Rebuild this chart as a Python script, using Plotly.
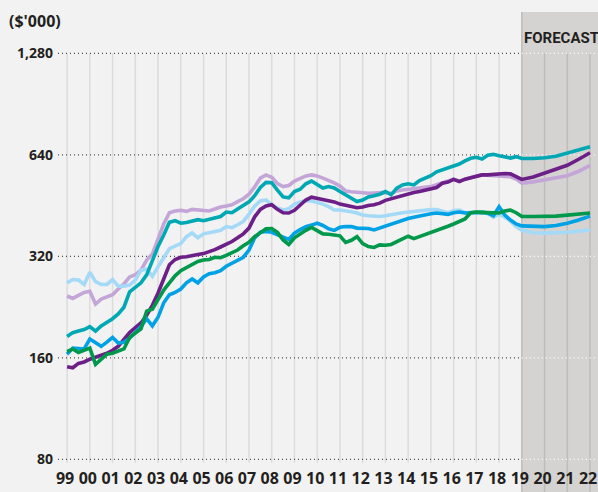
import math
import plotly.graph_objects as go

# ---------------- data ($'000) ----------------
quarters = [1999 + 0.25 * i for i in range(81)]          # 1999 Q1 .. 2019 Q1
forecast_years = [2019.5, 2020, 2020.5, 2021, 2021.5, 2022]
year_ticks = list(range(1999, 2023))
year_labels = ["99", "00", "01", "02", "03", "04", "05", "06", "07", "08", "09", "10",
               "11", "12", "13", "14", "15", "16", "17", "18", "19", "20", "21", "22"]
y_ticks = [80, 160, 320, 640, 1280]
y_labels = ["80", "160", "320", "640", "1,280"]

teal_hist = [185, 190, 192, 194, 198, 192, 199, 204, 209, 216,
             226, 251, 258, 267, 282, 312, 342, 370, 404, 408,
             401, 403, 407, 411, 408, 412, 418, 420, 433, 431,
             442, 453, 464, 484, 512, 530, 529, 503, 480, 477,
             498, 506, 525, 535, 521, 510, 515, 510, 498, 487,
             477, 465, 470, 480, 484, 489, 498, 487, 510, 521,
             525, 521, 537, 547, 555, 570, 577, 585, 590, 601,
             614, 625, 629, 622, 638, 642, 636, 630, 626, 632,
             624]
teal_fc = [624, 627, 634, 647, 659, 676]

lavender_hist = [244, 240, 245, 250, 252, 231, 239, 243, 246, 256,
                 265, 278, 282, 291, 312, 325, 358, 399, 431, 436,
                 438, 435, 441, 439, 437, 436, 442, 448, 451, 455,
                 465, 474, 489, 514, 546, 558, 549, 526, 515, 519,
                 535, 546, 554, 558, 554, 546, 538, 528, 517, 500,
                 497, 495, 491, 492, 493, 494, 495, 491, 500, 503,
                 505, 507, 509, 512, 515, 522, 529, 537, 542, 535,
                 542, 549, 554, 558, 556, 555, 554, 553, 551, 542,
                 527]
lavender_fc = [532, 540, 546, 555, 572, 595]

purple_hist = [150.5, 149.5, 154, 155.5, 158.5, 160.5, 163, 165, 168.5, 173,
               181.5, 190, 196.5, 203, 214, 229, 249, 274, 302, 313,
               318, 319, 322, 324, 326, 330, 335, 341, 347, 354,
               363, 373, 388, 419, 441, 451, 455, 441, 431, 430,
               438, 455, 470, 479, 475, 472, 469, 464, 457, 454,
               450, 446, 448, 453, 455, 460, 469, 474, 480, 487,
               492, 495, 498, 502, 507, 512, 527, 531, 541, 533,
               542, 548, 554, 558, 558, 560, 562, 563, 562, 551,
               541]
purple_fc = [550, 564, 579, 596, 621, 649]

lightblue_hist = [267, 273, 272, 264, 287, 269, 264, 264, 273, 261,
                  261, 263, 272, 291, 293, 279, 298, 318, 337, 343,
                  349, 366, 375, 363, 373, 376, 378, 382, 392, 389,
                  397, 406, 427, 451, 467, 470, 455, 445, 439, 443,
                  457, 464, 468, 467, 462, 457, 449, 439, 439, 437,
                  434, 430, 424, 422, 420, 420, 422, 424, 428, 431,
                  433, 435, 437, 439, 440, 440, 435, 431, 437, 439,
                  431, 432, 433, 432, 428, 418, 426, 418, 407, 392,
                  382]
lightblue_fc = [376, 375, 375, 377, 380, 383]

blue_hist = [164, 171, 170.5, 170, 182, 177, 173, 178, 184, 177,
             178, 183, 191, 198, 209, 199, 211, 233, 246, 250,
             256, 267, 274, 267, 278, 284, 286, 290, 299, 305,
             312, 318, 334, 363, 377, 379, 377, 372, 365, 359,
             375, 384, 392, 396, 401, 395, 386, 382, 390, 392,
             392, 388, 387, 387, 383, 388, 394, 398, 404, 411,
             414, 418, 422, 426, 428, 430, 428, 426, 431, 433,
             430, 431, 432, 432, 430, 422, 449, 424, 410, 399,
             394]
blue_fc = [392, 392, 395, 401, 410, 421]

green_hist = [167, 170, 166, 169, 171, 153, 158, 164, 165, 167,
              170, 184, 190, 195, 220, 223, 238, 254, 267, 280,
              290, 296, 302, 309, 312, 313, 318, 317, 322, 329,
              334, 344, 352, 366, 377, 386, 387, 377, 358, 347,
              363, 373, 382, 390, 381, 373, 372, 371, 368, 352,
              357, 366, 349, 342, 340, 346, 345, 347, 354, 362,
              367, 361, 366, 372, 375, 380, 387, 393, 399, 406,
              413, 431, 433, 432, 431, 430, 430, 436, 439, 431,
              420]
green_fc = [420, 420, 421, 424, 427, 430]

# ---------------- styling ----------------
BG = "#f2f2f2"
SHADE = "#d4d3d1"
TEXT = "#231f20"
FONT = "Open Sans"

X_MIN, X_MAX = 1998.6, 2022.35
Y_RANGE = [1.8862, 3.2297]
FORECAST_START = 2019

series = [
    ("lavender", lavender_hist, lavender_fc, "#c3a6d7"),
    ("light blue", lightblue_hist, lightblue_fc, "#a4daf7"),
    ("teal", teal_hist, teal_fc, "#00a8b4"),
    ("purple", purple_hist, purple_fc, "#6b1f87"),
    ("blue", blue_hist, blue_fc, "#00a2e5"),
    ("green", green_hist, green_fc, "#00984a"),
]

def paper_y(v):
    return (math.log10(v) - Y_RANGE[0]) / (Y_RANGE[1] - Y_RANGE[0])

fig = go.Figure()

# horizontal dotted grid lines (dark in history, white in forecast)
for v in y_ticks:
    fig.add_trace(go.Scatter(x=[X_MIN, FORECAST_START], y=[v, v], mode="lines",
                             line=dict(color="#4d4d4d", width=1.2, dash="1px,3px"),
                             hoverinfo="skip", showlegend=False))
    fig.add_trace(go.Scatter(x=[FORECAST_START, X_MAX], y=[v, v], mode="lines",
                             line=dict(color="#ffffff", width=1.2, dash="1px,3px"),
                             hoverinfo="skip", showlegend=False))

for name, hist, fc, color in series:
    fig.add_trace(go.Scatter(x=quarters + forecast_years, y=hist + fc, mode="lines",
                             name=name, line=dict(color=color, width=3.6),
                             hoverinfo="skip", showlegend=False))

shapes = [dict(type="rect", xref="x", yref="paper", x0=FORECAST_START, x1=2030,
               y0=-0.2, y1=1, fillcolor=SHADE, line=dict(width=0), layer="below")]
top = paper_y(1280)
for yr in year_ticks:
    if yr < FORECAST_START:
        shapes.append(dict(type="line", xref="x", yref="paper", x0=yr, x1=yr,
                           y0=0.005, y1=top, line=dict(color="#dcdcdc", width=1.5),
                           layer="below"))
    elif yr == FORECAST_START:
        shapes.append(dict(type="line", xref="x", yref="paper", x0=yr, x1=yr,
                           y0=-0.2, y1=1, line=dict(color="#bcbbb9", width=1.5),
                           layer="below"))
    else:
        shapes.append(dict(type="line", xref="x", yref="paper", x0=yr, x1=yr,
                           y0=-0.2, y1=top, line=dict(color="#bebdbb", width=1.5),
                           layer="below"))

fig.update_layout(
    width=598, height=492,
    margin=dict(l=58, r=0, t=12, b=27),
    paper_bgcolor=BG, plot_bgcolor=BG,
    shapes=shapes,
    font=dict(family=FONT, color=TEXT, size=14),
    annotations=[
        dict(text="($'000)", xref="paper", yref="paper", x=-0.095, y=0.98,
             xanchor="left", yanchor="middle", showarrow=False,
             font=dict(family=FONT, size=16, color=TEXT, weight=700)),
        dict(text="FORECAST", xref="x", yref="paper", x=FORECAST_START, y=0.942,
             xanchor="left", yanchor="middle", xshift=1, showarrow=False,
             borderpad=0,
             font=dict(family="Roboto", size=15, color=TEXT, weight=700)),
    ],
)
fig.update_xaxes(range=[X_MIN, X_MAX], tickvals=year_ticks, ticktext=year_labels,
                 showgrid=False, zeroline=False, showline=False, ticks="",
                 tickfont=dict(family=FONT, size=16, color=TEXT, weight=700),
                 ticklabelstandoff=2, ticklabeloverflow="allow", ticklabelshift=-2)
fig.update_yaxes(type="log", range=Y_RANGE, tickvals=y_ticks, ticktext=y_labels,
                 showgrid=False, zeroline=False, showline=False, ticks="",
                 tickfont=dict(family=FONT, size=14, color=TEXT, weight=700),
                 ticklabelstandoff=4)

fig.write_html("out.html", config={"displayModeBar": False},
               post_script="document.body.style.margin='0';")
